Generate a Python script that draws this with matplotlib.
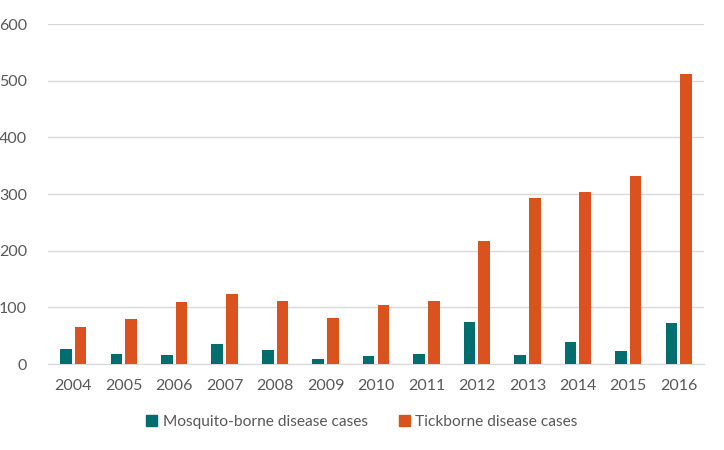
import matplotlib
matplotlib.use("Agg")
import matplotlib.pyplot as plt
import numpy as np
from matplotlib.patches import Patch

years = ["2004", "2005", "2006", "2007", "2008", "2009", "2010",
         "2011", "2012", "2013", "2014", "2015", "2016"]
mosquito = [27, 18, 16, 36, 25, 9, 14, 18, 75, 16, 39, 23, 73]
tick = [66, 79, 109, 124, 111, 81, 104, 112, 217, 293, 304, 332, 512]
yticks = [0, 100, 200, 300, 400, 500, 600]

teal = "#006D6F"
orange = "#DA531F"
grey = "#595959"

plt.rcParams['font.family'] = ['Lato', 'DejaVu Sans']

fig = plt.figure(figsize=(7.24, 4.5), dpi=100)
ax = fig.add_axes([48/724, 1-364/450, (704-48)/724, (364-24)/450])

x = np.arange(len(years))
w = 0.23
ax.bar(x - 0.145, mosquito, width=w, color=teal, zorder=3)
ax.bar(x + 0.145, tick, width=w, color=orange, zorder=3)

ax.set_xlim(-0.5, len(years) - 0.5)
ax.set_ylim(0, 600)
ax.set_yticks(yticks)
ax.set_xticks(x)
ax.set_xticklabels(years)
ax.yaxis.grid(True, color="#D9D9D9", linewidth=1, zorder=0)
ax.tick_params(axis='both', length=0, labelsize=11.5, labelcolor=grey)
ax.tick_params(axis='x', pad=11)
ax.tick_params(axis='y', pad=15)
for s in ["top", "right", "left"]:
    ax.spines[s].set_visible(False)
ax.spines["bottom"].set_color("#D9D9D9")

handles = [Patch(color=teal, label="Mosquito-borne disease cases"),
           Patch(color=orange, label="Tickborne disease cases")]
leg = fig.legend(handles=handles, loc="center", bbox_to_anchor=(0.5, 1-422/450),
                 ncol=2, frameon=False, fontsize=11.2, handlelength=0.7,
                 handleheight=0.7, columnspacing=2.0, handletextpad=0.35)
for t in leg.get_texts():
    t.set_color(grey)

fig.savefig("out.png", dpi=100)
